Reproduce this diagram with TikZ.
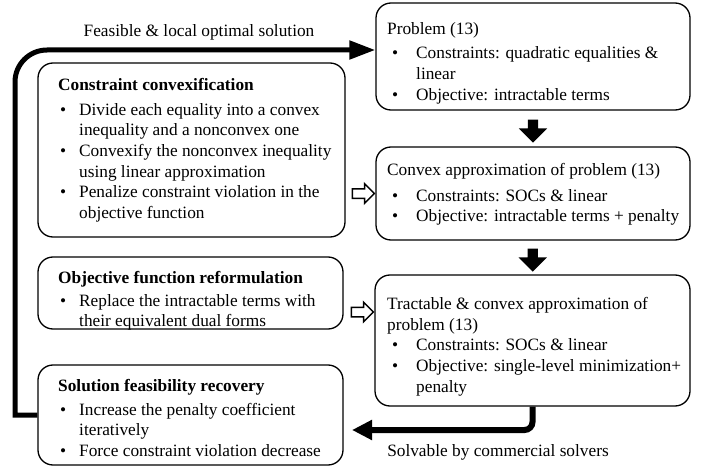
\documentclass[tikz,border=0pt]{standalone}
\usepackage{fontspec}
\setmainfont{Liberation Serif}
\usetikzlibrary{shapes.arrows,arrows.meta,calc}
\newcommand{\bul}[2]{\makebox[#2pt][l]{\hspace*{#1pt}\makebox[0pt][c]{•}}}
\newcommand{\bR}{\bul{8}{29}}
\newcommand{\cR}{\hspace*{29pt}}
\newcommand{\bL}{\bul{5}{21}}
\newcommand{\cL}{\hspace*{21pt}}
\begin{document}
\begin{tikzpicture}[x=1pt,y=-1pt,
  font=\fontsize{17.3}{20.7}\selectfont,
  box/.style={draw, line width=1.3pt, rounded corners=15pt, inner sep=0pt},
  txt/.style={anchor=north west, inner sep=0pt, align=left},
  bigarr/.style={line width=5pt, -{Triangle[length=26pt,width=18pt]}},
  bigarrb/.style={line width=6pt, rounded corners=8pt, -{Triangle[length=20pt,width=19pt]}},
  downarr/.style={single arrow, fill=black, draw=none, rotate=-90, minimum height=23pt, minimum width=28pt, inner sep=5pt, single arrow head extend=9pt},
  hollowarr/.style={single arrow, fill=white, draw=black, line width=1.5pt, minimum height=22pt, minimum width=18pt, inner sep=4pt, single arrow head extend=5pt},
]
\useasboundingbox (0,0) rectangle (707,468);

% right column boxes
\node[box, minimum width=314pt, minimum height=107pt] (prob) at (533,56.5) {};
\node[box, minimum width=314pt, minimum height=93pt] (conv) at (533,193.5) {};
\node[box, minimum width=315pt, minimum height=131pt] (tract) at (532.5,340.5) {};
% left column boxes
\node[box, minimum width=307pt, minimum height=174pt] (cc) at (191.5,150) {};
\node[box, minimum width=305pt, minimum height=72pt] (of) at (190.5,293) {};
\node[box, minimum width=305pt, minimum height=100pt] (sf) at (190.5,415) {};

% texts
\node[txt] (probt) at (387,22) {Problem (13)\\[4pt]
\bR Constraints: quadratic equalities \&\\
\cR linear\\
\bR Objective: intractable terms};
\node[txt] (convt) at (387,163) {Convex approximation of problem (13)\\[5pt]
\bR Constraints: SOCs \& linear\\
\bR Objective: intractable terms + penalty};
\node[txt] (tractt) at (387,297) {Tractable \& convex approximation of\\
problem (13)\\
\bR Constraints: SOCs \& linear\\
\bR Objective: single-level minimization+\\
\cR penalty};
\node[txt] (cct) at (58,78) {\textbf{Constraint convexification}\\[4pt]
\bL Divide each equality into a convex\\
\cL inequality and a nonconvex one\\
\bL Convexify the nonconvex inequality\\
\cL using linear approximation\\
\bL Penalize constraint violation in the\\
\cL objective function};
\node[txt] (oft) at (58,271) {\textbf{Objective function reformulation}\\[2pt]
\bL Replace the intractable terms with\\
\cL their equivalent dual forms};
\node[txt] (sft) at (58,379) {\textbf{Solution feasibility recovery}\\[3pt]
\bL Increase the penalty coefficient\\
\cL iteratively\\
\bL Force constraint violation decrease};

% block arrows
\node[downarr] (d1) at ($(prob.south)!0.5!(conv.north)$) {};
\node[downarr] (d2) at ($(conv.south)!0.5!(tract.north)$) {};
\node[hollowarr] (h1) at (361,193.5) {};
\node[hollowarr] (h2) at (360,312) {};

% feedback loop
\coordinate (loopend) at ([yshift=6.5pt]prob.west);
\draw[bigarr] (sf.west) -- (15,415) -- (15,82) to[out=90,in=180] (47,50) -- (loopend);
\node (lab1) at (199,32) {Feasible \& local optimal solution};

% solver arrow
\coordinate (solvend) at (352,430);
\draw[bigarrb] (tract.south) |- (solvend);
\node (lab2) at (498,452) {Solvable by commercial solvers};
\end{tikzpicture}
\end{document}
